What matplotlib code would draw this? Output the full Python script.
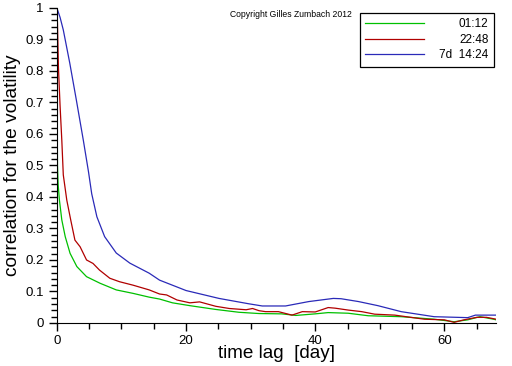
import matplotlib
matplotlib.use("Agg")
import matplotlib.pyplot as plt
from matplotlib.ticker import MultipleLocator

# time lag [day] and volatility correlation
lag_green = [0, 0.05, 0.1, 0.2, 0.4, 0.77, 1.3, 2.05, 3.1, 4.6, 6.7, 9.2, 11.8,
             14.3, 15.9, 17.9, 20.6, 24.6, 28.2, 31.3, 34.8, 37, 40, 42, 45.1,
             48.2, 53.3, 58.4, 61.5, 63.6, 65.5, 67.6, 68]
corr_green = [1.0, 0.69, 0.5, 0.44, 0.39, 0.327, 0.274, 0.221, 0.179, 0.147,
              0.126, 0.105, 0.094, 0.082, 0.076, 0.064, 0.055, 0.043, 0.034,
              0.030, 0.029, 0.024, 0.029, 0.033, 0.031, 0.023, 0.02, 0.012,
              0.004, 0.01, 0.02, 0.012, 0.01]

lag_red = [0, 0.1, 0.25, 0.5, 0.77, 1.0, 1.54, 2.15, 2.8, 3.6, 4.6, 5.6, 6.6,
           8.2, 9.7, 11.8, 14.3, 15.9, 17.0, 18.6, 20.6, 22.1, 24.6, 26.7,
           29.3, 30.3, 31.3, 32.3, 34.3, 36.4, 38, 40, 42, 43.1, 45.1, 47.2,
           49.2, 52.3, 56.9, 60, 61.5, 63, 65, 66.5, 68]
corr_red = [1.0, 0.95, 0.81, 0.69, 0.58, 0.47, 0.39, 0.327, 0.263, 0.242, 0.2,
            0.189, 0.168, 0.142, 0.131, 0.12, 0.105, 0.092, 0.089, 0.073,
            0.064, 0.067, 0.053, 0.046, 0.042, 0.046, 0.039, 0.036, 0.036,
            0.025, 0.036, 0.035, 0.049, 0.047, 0.041, 0.036, 0.028, 0.025,
            0.012, 0.01, 0.002, 0.01, 0.018, 0.018, 0.012]

lag_blue = [0, 0.5, 1.0, 2.0, 3.0, 4.1, 4.9, 5.4, 6.2, 7.4, 9.2, 11.3, 14.3,
            15.9, 20, 25.1, 29.7, 31.8, 35.4, 39, 42.8, 44, 46.7, 49.7, 53.3,
            58.4, 63.6, 64.8, 68]
corr_blue = [1.0, 0.97, 0.93, 0.825, 0.71, 0.58, 0.48, 0.41, 0.337, 0.274,
             0.222, 0.19, 0.158, 0.136, 0.103, 0.078, 0.061, 0.054, 0.054,
             0.068, 0.078, 0.077, 0.068, 0.055, 0.036, 0.02, 0.017, 0.025,
             0.025]

labels = ["01:12", "22:48", "7d  14:24"]


def main():
    plt.rcParams['font.family'] = ['Liberation Sans', 'DejaVu Sans']
    fig = plt.figure(figsize=(5.12, 3.66), dpi=100)
    ax = fig.add_axes([0.111, 0.1175, 0.858, 0.861])

    ax.plot(lag_green, corr_green, color='#00c000', lw=0.9, label=labels[0])
    ax.plot(lag_red, corr_red, color='#b00000', lw=0.9, label=labels[1])
    ax.plot(lag_blue, corr_blue, color='#2a2ab8', lw=0.9, label=labels[2])

    ax.set_xlim(0, 68)
    ax.set_ylim(0, 1)
    ax.spines['top'].set_visible(False)
    ax.spines['right'].set_visible(False)
    ax.xaxis.set_major_locator(MultipleLocator(20))
    ax.xaxis.set_minor_locator(MultipleLocator(5))
    ax.yaxis.set_major_locator(MultipleLocator(0.1))
    ax.yaxis.set_minor_locator(MultipleLocator(0.02))
    ax.yaxis.set_major_formatter(lambda v, p: f"{v:g}")
    ax.tick_params(which='major', length=6, width=1, labelsize=9.5)
    ax.tick_params(which='minor', length=4, width=1)
    ax.tick_params(axis='x', pad=2.5)

    ax.set_xlabel('time lag  [day]', fontsize=13.6, labelpad=-1)
    ax.set_ylabel('correlation for the volatility', fontsize=13.8, labelpad=3)

    fig.text(0.449, 0.953, 'Copyright Gilles Zumbach 2012', fontsize=6.2)

    leg = ax.legend(loc='upper right', bbox_to_anchor=(0.995, 0.985),
                    fontsize=8.5, frameon=True, fancybox=False,
                    edgecolor='black', framealpha=1, handlelength=5.0,
                    labelspacing=0.32, borderpad=0.45, borderaxespad=0)
    leg.get_frame().set_linewidth(0.9)

    # push the legend texts to the right so they end at the same place
    fig.canvas.draw()
    renderer = fig.canvas.get_renderer()
    texts = leg.get_texts()
    widths = [t.get_window_extent(renderer).width for t in texts]
    wmax = max(widths) + 6
    for col in leg._legend_handle_box.get_children():
        for item, w in zip(col.get_children(), widths):
            item.sep += (wmax - w) * 72 / fig.dpi

    fig.savefig('out.png', dpi=100)


if __name__ == "__main__":
    main()
